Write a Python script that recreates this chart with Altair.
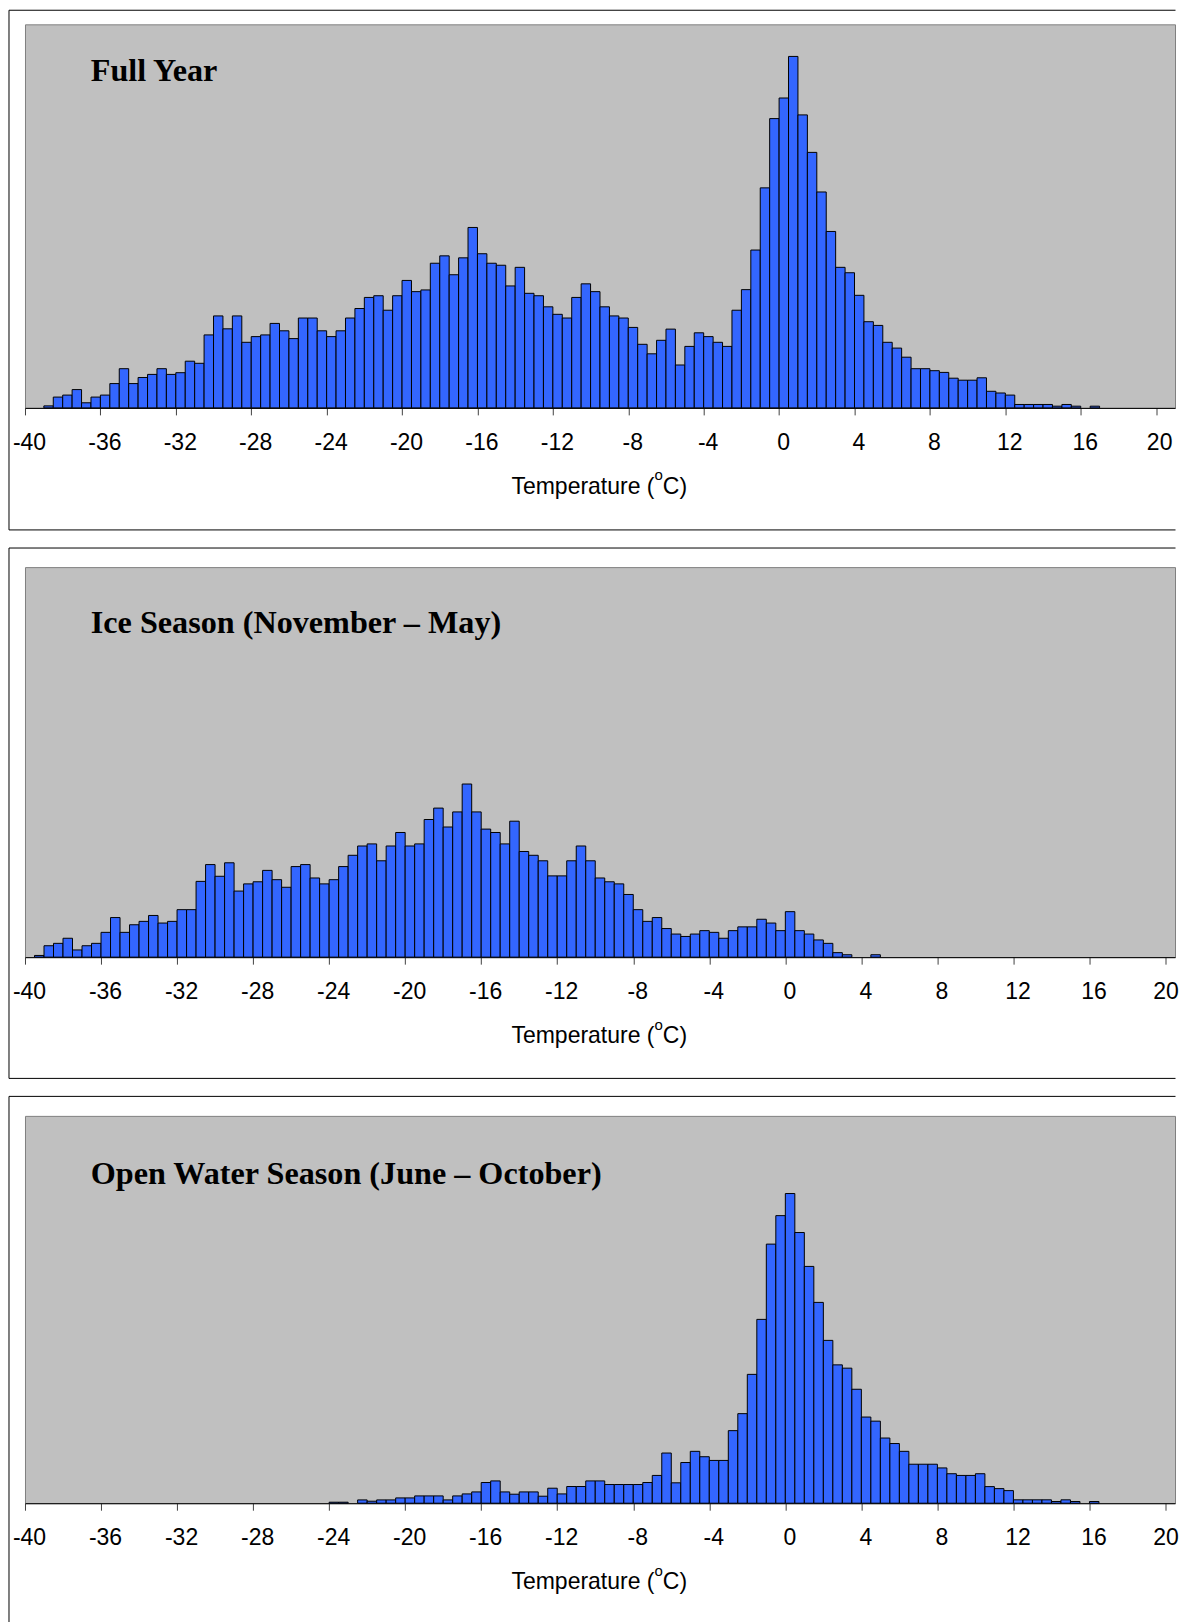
import altair as alt
import pandas as pd

BIN = 0.5
titles = ["Full Year", "Ice Season (November \u2013 May)", "Open Water Season (June \u2013 October)"]
axis_title_parts = ["Temperature (", "o", "C)"]
tick_values = list(range(-40, 21, 4))

# Relative frequency per 0.5 degC bin, first bin start given
full_start = -39.0
full_values = [2.0, 10.8, 12.8, 18.3, 5.1, 10.8, 12.8, 24.3, 39.2, 24.3,
               30.4, 33.5, 39.2, 33.5, 35.2, 46.7, 44.6, 73.0, 92.0, 79.1,
               92.0, 65.6, 71.3, 73.0, 84.5, 77.1, 69.3, 89.9, 89.9, 77.1,
               71.3, 77.1, 89.9, 99.4, 110.5, 112.2, 97.7, 112.2, 127.5, 116.3,
               118.0, 144.7, 152.1, 133.2, 150.1, 180.5, 154.2, 144.7, 142.7, 122.0,
               140.6, 114.6, 112.2, 101.1, 93.6, 89.9, 110.5, 124.1, 116.3, 101.1,
               92.0, 89.9, 80.5, 63.6, 54.1, 67.6, 78.8, 42.9, 61.5, 75.1,
               71.3, 65.6, 61.5, 97.7, 118.3, 157.9, 220.1, 289.4, 310.0, 351.6,
               293.1, 255.6, 216.0, 176.5, 140.6, 135.2, 112.6, 86.2, 82.5, 65.6,
               59.8, 50.7, 39.2, 39.2, 37.2, 35.5, 29.7, 27.7, 27.7, 30.1,
               16.6, 14.9, 12.8, 3.4, 3.4, 3.4, 3.4, 1.7, 3.4, 1.7,
               0, 1.7]

ice_start = -39.5
ice_values = [1.7, 11.4, 13.8, 18.9, 7.2, 11.4, 13.8, 24.8, 39.6, 24.8,
              32.4, 35.8, 41.7, 34.1, 35.8, 47.5, 47.5, 75.8, 92.6, 80.9,
              94.4, 66.1, 73.3, 75.4, 86.8, 77.5, 69.9, 90.6, 92.6, 79.2,
              73.3, 77.5, 90.6, 101.9, 111.2, 113.3, 96.4, 111.2, 124.7, 111.2,
              113.3, 137.7, 149.1, 130.2, 145.3, 173.2, 145.3, 128.1, 124.7, 113.3,
              136.0, 105.7, 101.9, 96.4, 81.3, 81.3, 96.4, 111.2, 96.4, 79.2,
              75.4, 73.3, 62.7, 47.5, 35.8, 39.6, 28.6, 23.1, 20.7, 23.1,
              26.5, 24.8, 18.9, 26.5, 30.3, 30.3, 37.9, 34.1, 26.5, 45.5,
              26.5, 23.1, 17.2, 13.8, 4.5, 2.4, 0, 0, 2.4]

open_start = -24.0
open_values = [1.0, 1.0, 0, 3.3, 2.0, 3.3, 3.3, 5.3, 5.3, 7.3,
               7.3, 7.3, 3.3, 7.3, 9.3, 11.3, 20.7, 22.3, 11.3, 9.0,
               11.3, 11.3, 7.0, 15.0, 9.3, 16.7, 16.7, 22.3, 22.3, 18.7,
               18.7, 18.7, 18.7, 20.7, 27.8, 50.2, 20.4, 40.7, 51.9, 46.5,
               42.8, 42.8, 72.6, 89.6, 128.9, 183.9, 259.2, 287.7, 309.8, 270.8,
               236.9, 200.9, 162.9, 138.4, 135.1, 114.0, 86.2, 82.1, 65.2, 59.7,
               51.9, 39.0, 39.0, 39.0, 35.3, 29.5, 27.8, 27.8, 29.5, 16.6,
               14.6, 12.6, 3.4, 3.4, 3.4, 3.4, 1.7, 3.4, 1.7, 0,
               1.7]

series = [(full_start, full_values), (ice_start, ice_values), (open_start, open_values)]

# layout
W = 1150.5
x_max = [21.0, 20.5, 20.5]
plot_h = [383.7, 390.2, 387.5]
title_y = [56.4, 65.8, 68.5]
frame_top = [-14.1, -19.1, -19.5]
frame_bottom = [505.8, 511.5, 530.0]
last_label_offset = [3, 0, 0]


def panel(i):
    start, values = series[i]
    df = pd.DataFrame({"start": [start + BIN * k for k in range(len(values))],
                       "value": values})
    df["end"] = df["start"] + BIN
    df = df[df["value"] > 0]
    H = plot_h[i]
    x = alt.X("start:Q",
              scale=alt.Scale(domain=[-40, x_max[i]], nice=False, zero=False),
              axis=alt.Axis(values=tick_values, title=None,
                            labelExpr="'' + datum.value",
                            labelFlush=False, labelOverlap=False,
                            labelOffset={"condition": {"test": "datum.value == 20",
                                                       "value": last_label_offset[i]},
                                         "value": 4},
                            grid=False))
    bars = alt.Chart(df).mark_rect(fill="#3366FF", stroke="#000000", strokeWidth=1).encode(
        x=x, x2="end:Q",
        y=alt.Y("value:Q", scale=alt.Scale(domain=[0, H], nice=False, zero=True), axis=None),
        y2=alt.datum(0),
    )
    one = pd.DataFrame({"k": [0]})
    top = alt.Chart(one).mark_rule(color="#000000", strokeWidth=1).encode(
        x=alt.value(-16), x2=alt.value(W + 0.5), y=alt.value(frame_top[i]))
    bottom = alt.Chart(one).mark_rule(color="#000000", strokeWidth=1).encode(
        x=alt.value(-16), x2=alt.value(W + 0.5), y=alt.value(frame_bottom[i]))
    left = alt.Chart(one).mark_rule(color="#000000", strokeWidth=1).encode(
        x=alt.value(-16), y=alt.value(frame_top[i]), y2=alt.value(frame_bottom[i]))
    label = alt.Chart(pd.DataFrame({"t": [titles[i]]})).mark_text(
        align="left", baseline="alphabetic", font="Liberation Serif",
        fontWeight="bold", fontSize=32.2, color="#000000").encode(
        x=alt.value(65.8), y=alt.value(title_y[i]), text="t:N")
    # axis title with superscript o
    total = 145.7 + 8.3 + 24.3
    x0 = W / 2 - total / 2 - 2
    t1 = alt.Chart(pd.DataFrame({"t": [axis_title_parts[0]]})).mark_text(
        align="right", baseline="alphabetic", font="Liberation Sans", fontSize=23,
        color="#000000").encode(x=alt.value(x0 + 145.7), y=alt.value(H + 86), text="t:N")
    t2 = alt.Chart(pd.DataFrame({"t": [axis_title_parts[1]]})).mark_text(
        align="left", baseline="alphabetic", font="Liberation Sans", fontSize=15,
        color="#000000").encode(x=alt.value(x0 + 145.7), y=alt.value(H + 72.6), text="t:N")
    t3 = alt.Chart(pd.DataFrame({"t": [axis_title_parts[2]]})).mark_text(
        align="left", baseline="alphabetic", font="Liberation Sans", fontSize=23,
        color="#000000").encode(x=alt.value(x0 + 154.0), y=alt.value(H + 86), text="t:N")
    return alt.layer(bars, top, bottom, left, label, t1, t2, t3).properties(width=W, height=H)


chart = alt.vconcat(panel(0), panel(1), panel(2), spacing=15).properties(
    padding=0, background="white"
).configure_view(
    fill="#C0C0C0", stroke="#808080", strokeWidth=1
).configure_axis(
    domainColor="#000000", domainWidth=1,
    tickColor="#404040", tickSize=7, tickWidth=1,
    labelFont="Liberation Sans", labelFontSize=23, labelColor="#000000",
    labelBaseline="alphabetic", labelPadding=34.7,
)

chart.save("out.html", embed_options={"renderer": "svg", "actions": False})
